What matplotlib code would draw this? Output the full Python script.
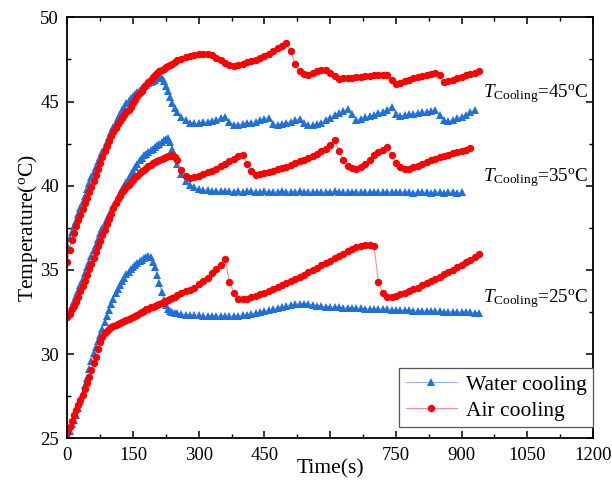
"""
Battery temperature vs time: water cooling vs air cooling at three coolant temperatures.
"""

import matplotlib
matplotlib.use('Agg')
import matplotlib.pyplot as plt
import numpy as np

plt.rcParams['font.family'] = 'Liberation Serif'
plt.rcParams['mathtext.fontset'] = 'custom'
plt.rcParams['mathtext.rm'] = 'Liberation Serif'
plt.rcParams['mathtext.it'] = 'Liberation Serif:italic'

# values: 5 s steps for 0-245 s, then 10 s steps from 250 s
EARLY_DT, LATE_T0, LATE_DT = 5, 250, 10

# T_cooling = 45 C
air_45_early = [35.5, 36.2, 36.8, 37.2, 37.6, 37.95, 38.25, 38.6, 38.95, 39.3,
                39.65, 39.95, 40.3, 40.65, 41.0, 41.35, 41.7, 42.05, 42.35, 42.65,
                42.95, 43.2, 43.45, 43.65, 43.85, 44.05, 44.2, 44.35, 44.5, 44.7,
                44.9, 45.1, 45.3, 45.5, 45.65, 45.85, 46.0, 46.15, 46.3, 46.45,
                46.55, 46.7, 46.8, 46.88, 46.95, 47.03, 47.1, 47.18, 47.25, 47.35]
air_45_late = [47.45, 47.55, 47.62, 47.68, 47.74, 47.8, 47.84, 47.82, 47.75, 47.6,
               47.45, 47.3, 47.18, 47.12, 47.18, 47.25, 47.32, 47.4, 47.48, 47.58,
               47.7, 47.85, 48.0, 48.15, 48.3, 48.45, 48.0, 47.2, 46.8, 46.65,
               46.6, 46.7, 46.8, 46.9, 46.85, 46.72, 46.5, 46.36, 46.4, 46.4,
               46.42, 46.45, 46.47, 46.5, 46.52, 46.55, 46.57, 46.6, 46.6, 46.3,
               46.05, 46.1, 46.2, 46.3, 46.38, 46.45, 46.5, 46.55, 46.62, 46.68,
               46.6, 46.15, 46.2, 46.3, 46.4, 46.48, 46.55, 46.62, 46.7, 46.82]
water_45_early = [36.5, 36.9, 37.25, 37.6, 37.9, 38.3, 38.65, 39.05, 39.4, 39.8,
                  40.15, 40.5, 40.8, 41.1, 41.4, 41.7, 42.0, 42.3, 42.6, 42.9,
                  43.2, 43.5, 43.75, 44.0, 44.25, 44.5, 44.7, 44.9, 45.05, 45.2,
                  45.35, 45.45, 45.55, 45.7, 45.8, 45.9, 46.0, 46.08, 46.15, 46.22,
                  46.3, 46.4, 46.5, 46.4, 46.2, 45.95, 45.6, 45.25, 44.9, 44.62]
water_45_late = [44.4, 44.1, 43.9, 43.75, 43.7, 43.72, 43.76, 43.8, 43.86, 43.93,
                 44.0, 44.08, 43.8, 43.6, 43.62, 43.66, 43.7, 43.75, 43.8, 43.88,
                 43.95, 44.05, 43.65, 43.62, 43.68, 43.74, 43.8, 43.88, 43.98, 43.75,
                 43.58, 43.58, 43.66, 43.75, 43.88, 44.05, 44.2, 44.32, 44.42, 44.55,
                 44.25, 43.92, 43.98, 44.06, 44.14, 44.22, 44.3, 44.4, 44.5, 44.68,
                 44.25, 44.15, 44.2, 44.24, 44.28, 44.32, 44.36, 44.4, 44.44, 44.5,
                 44.2, 43.9, 43.82, 43.9, 44.0, 44.1, 44.2, 44.35, 44.5]

# T_cooling = 35 C
air_35_early = [32.2, 32.4, 32.65, 32.85, 33.1, 33.4, 33.75, 34.05, 34.35, 34.7,
                35.05, 35.35, 35.7, 36.05, 36.4, 36.7, 37.05, 37.4, 37.7, 38.05,
                38.35, 38.65, 38.95, 39.2, 39.4, 39.6, 39.75, 39.9, 40.05, 40.2,
                40.35, 40.5, 40.6, 40.75, 40.85, 40.95, 41.05, 41.15, 41.25, 41.32,
                41.4, 41.48, 41.55, 41.6, 41.65, 41.7, 41.75, 41.78, 41.8, 41.7]
air_35_late = [41.5, 40.95, 40.6, 40.45, 40.5, 40.6, 40.7, 40.8, 40.9, 41.02,
               41.15, 41.3, 41.45, 41.6, 41.75, 41.85, 41.3, 40.9, 40.65, 40.7,
               40.76, 40.83, 40.9, 40.98, 41.06, 41.14, 41.24, 41.34, 41.44, 41.54,
               41.64, 41.75, 41.9, 42.05, 42.2, 42.4, 42.7, 42.05, 41.5, 41.2,
               41.05, 41.0, 41.1, 41.3, 41.55, 41.8, 42.0, 42.15, 42.3, 41.8,
               41.35, 41.12, 41.02, 41.02, 41.1, 41.2, 41.3, 41.4, 41.5, 41.6,
               41.68, 41.76, 41.84, 41.92, 42.0, 42.08, 42.15, 42.25]
water_35_early = [32.3, 32.55, 32.85, 33.15, 33.45, 33.75, 34.1, 34.45, 34.8, 35.15,
                  35.5, 35.85, 36.2, 36.5, 36.85, 37.2, 37.5, 37.75, 38.0, 38.25,
                  38.5, 38.8, 39.05, 39.3, 39.55, 39.8, 40.0, 40.25, 40.45, 40.7,
                  40.9, 41.1, 41.3, 41.5, 41.65, 41.8, 41.9, 42.0, 42.1, 42.2,
                  42.3, 42.4, 42.5, 42.6, 42.7, 42.8, 42.85, 42.6, 42.2, 41.75]
water_35_late = [41.3, 40.7, 40.3, 40.05, 39.9, 39.82, 39.76, 39.72, 39.7, 39.68,
                 39.7, 39.66, 39.68, 39.65, 39.67, 39.64, 39.66, 39.68, 39.65, 39.63,
                 39.66, 39.64, 39.62, 39.65, 39.67, 39.64, 39.62, 39.64, 39.66, 39.63,
                 39.62, 39.64, 39.65, 39.63, 39.61, 39.64, 39.66, 39.63, 39.62, 39.6,
                 39.63, 39.65, 39.62, 39.6, 39.62, 39.64, 39.61, 39.6, 39.63, 39.62,
                 39.6, 39.61, 39.63, 39.6, 39.59, 39.62, 39.6, 39.61, 39.59, 39.62,
                 39.6, 39.58, 39.6, 39.61, 39.59, 39.6]

# T_cooling = 25 C
air_25_early = [25.3, 25.7, 26.05, 26.4, 26.7, 27.0, 27.3, 27.6, 27.95, 28.3,
                28.65, 29.05, 29.45, 29.85, 30.3, 30.7, 31.0, 31.25, 31.4, 31.5,
                31.6, 31.68, 31.75, 31.8, 31.87, 31.92, 31.97, 32.02, 32.07, 32.13,
                32.2, 32.28, 32.35, 32.42, 32.5, 32.58, 32.65, 32.7, 32.77, 32.82,
                32.88, 32.93, 32.98, 33.04, 33.1, 33.16, 33.22, 33.28, 33.35, 33.42]
air_25_late = [33.5, 33.62, 33.72, 33.82, 33.95, 34.15, 34.35, 34.55, 34.8, 35.05,
               35.3, 35.65, 34.3, 33.65, 33.3, 33.25, 33.3, 33.38, 33.47, 33.55,
               33.63, 33.72, 33.85, 33.98, 34.1, 34.22, 34.35, 34.47, 34.6, 34.72,
               34.85, 34.98, 35.12, 35.27, 35.42, 35.55, 35.68, 35.82, 35.97, 36.1,
               36.22, 36.35, 36.45, 36.48, 36.46, 36.44, 34.3, 33.6, 33.42, 33.42,
               33.48, 33.55, 33.65, 33.75, 33.85, 33.95, 34.08, 34.2, 34.33, 34.47,
               34.6, 34.73, 34.87, 35.0, 35.15, 35.3, 35.45, 35.6, 35.75, 35.95]
water_25_early = [25.1, 25.45, 25.85, 26.1, 26.4, 26.8, 27.2, 27.7, 28.15, 28.6,
                  29.1, 29.6, 30.05, 30.45, 30.8, 31.15, 31.5, 31.9, 32.25, 32.6,
                  32.95, 33.3, 33.6, 33.85, 34.1, 34.35, 34.55, 34.75, 34.9, 35.05,
                  35.2, 35.3, 35.42, 35.52, 35.6, 35.7, 35.78, 35.85, 35.75, 35.5,
                  35.15, 34.7, 34.2, 33.7, 33.2, 32.9, 32.65, 32.55, 32.48, 32.45]
water_25_late = [32.42, 32.38, 32.35, 32.32, 32.3, 32.3, 32.28, 32.27, 32.26, 32.26,
                 32.25, 32.25, 32.24, 32.25, 32.27, 32.3, 32.35, 32.4, 32.45, 32.5,
                 32.55, 32.6, 32.67, 32.74, 32.8, 32.85, 32.9, 32.95, 32.98, 33.0,
                 32.97, 32.92, 32.88, 32.85, 32.82, 32.8, 32.79, 32.77, 32.76, 32.75,
                 32.73, 32.72, 32.71, 32.7, 32.69, 32.68, 32.67, 32.66, 32.65, 32.64,
                 32.63, 32.62, 32.61, 32.6, 32.59, 32.58, 32.57, 32.56, 32.56, 32.55,
                 32.54, 32.53, 32.52, 32.52, 32.51, 32.5, 32.5, 32.48, 32.47, 32.46]

cooling_temps = [45, 35, 25]
label_y = [45.5, 40.5, 33.3]

# the 600 label is hidden under the axis title in the original
x_ticks = [0, 150, 300, 450, 600, 750, 900, 1050, 1200]
x_ticklabels = ['0', '150', '300', '450', '', '750', '900', '1050', '1200']

BLUE, BLUE_LINE = '#1f6fdc', '#8fb4ee'
RED, RED_LINE = '#ff0000', '#ff8c8c'


def series(early, late):
    t = np.r_[np.arange(len(early)) * EARLY_DT, LATE_T0 + np.arange(len(late)) * LATE_DT]
    return t, np.r_[early, late]


groups = [
    (series(water_45_early, water_45_late), series(air_45_early, air_45_late)),
    (series(water_35_early, water_35_late), series(air_35_early, air_35_late)),
    (series(water_25_early, water_25_late), series(air_25_early, air_25_late)),
]

fig = plt.figure(figsize=(6.12, 4.88), dpi=100)
ax = fig.add_axes([0.110, 0.1018, 0.859, 0.8627])

for i, ((tw, w), (ta, a)) in enumerate(groups):
    ax.plot(tw, w, '-', color=BLUE_LINE, lw=0.8, marker='^', ms=5.5,
            mfc=BLUE, mec=BLUE, mew=0, label='Water cooling' if i == 0 else None)
    ax.plot(ta, a, '-', color=RED_LINE, lw=0.8, marker='o', ms=5.3,
            mfc=RED, mec=RED, mew=0, label='Air cooling' if i == 0 else None)

for temp, y in zip(cooling_temps, label_y):
    ax.text(948, y, r'$T_{\rm Cooling}$=%d$^{\rm o}$C' % temp, fontsize=13.8,
            ha='left', va='center')

ax.set_xlim(0, 1200)
ax.set_ylim(25, 50)
ax.set_xticks(x_ticks)
ax.set_xticklabels(x_ticklabels)
ax.set_xticks(np.arange(0, 1201, 75), minor=True)
ax.set_yticks(np.arange(25, 51, 5))
ax.set_yticks(np.arange(25, 51, 2.5), minor=True)
ax.tick_params(which='both', direction='in', top=True, right=True, labelsize=13.5)
ax.tick_params(which='major', length=5, width=1.1, pad=6)
ax.tick_params(which='minor', length=3, width=1.0)
for s in ax.spines.values():
    s.set_linewidth(1.3)

ax.set_xlabel('Time(s)', fontsize=15.5, labelpad=-3)
ax.set_ylabel('Temperature($^{\\rm o}$C)', fontsize=15.5, labelpad=0)

leg = ax.legend(loc='lower right', bbox_to_anchor=(1.0, 0.026), borderaxespad=0,
                fontsize=15.5, fancybox=False, edgecolor='#555555', framealpha=1,
                handlelength=2.4, numpoints=1, labelspacing=0.28, borderpad=0.3,
                handletextpad=0.4)
leg.get_frame().set_linewidth(0.9)

plt.savefig('out.png', dpi=100)
plt.close()
